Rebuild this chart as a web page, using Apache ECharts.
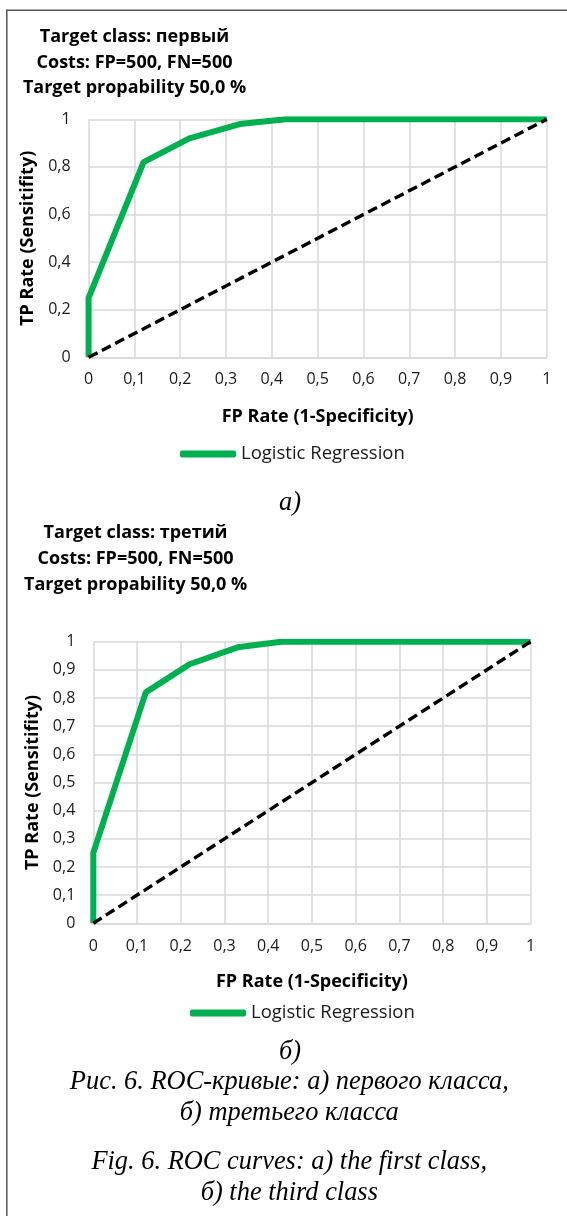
<!DOCTYPE html>
<html>
<head>
<meta charset="utf-8">
<script src="https://cdn.jsdelivr.net/npm/echarts@6/dist/echarts.min.js"></script>
<style>
html,body{margin:0;padding:0;background:#fff;}
#chart{width:567px;height:1216px;}
</style>
</head>
<body>
<div id="chart"></div>
<script>
// ---- data ----
const fprClass1 = [0, 0, 0.12, 0.22, 0.33, 0.43, 1];
const tprClass1 = [0, 0.25, 0.82, 0.92, 0.98, 1, 1];
const fprClass3 = [0, 0, 0.12, 0.22, 0.33, 0.43, 1];
const tprClass3 = [0, 0.25, 0.82, 0.92, 0.98, 1, 1];
const chanceX = [0, 1];
const chanceY = [0, 1];
const seriesName = 'Logistic Regression';
const titleClass1 = ['Target class: первый', 'Costs: FP=500, FN=500', 'Target propability 50,0 %'];
const titleClass3 = ['Target class: третий', 'Costs: FP=500, FN=500', 'Target propability 50,0 %'];
const xAxisTitle = 'FP Rate (1-Specificity)';
const yAxisTitle = 'TP Rate (Sensitifity)';
const panelLabels = ['а)', 'б)'];
const captionRu = ['Рис. 6. ROC-кривые: а) первого класса,', 'б) третьего класса'];
const captionEn = ['Fig. 6. ROC curves: а) the first class,', 'б) the third class'];

// ---- styling ----
const SANS = '"Open Sans", "Noto Sans", sans-serif';
const SERIF = '"Liberation Serif", "DejaVu Serif", serif';
const GREEN = '#00B050';
const GRID = '#D9D9D9';
const TXT = '#1a1a1a';

// font size that makes a sample string as wide as it is in the reference
function fit(text, weight, style, family, width) {
  const ctx = document.createElement('canvas').getContext('2d');
  ctx.font = style + ' ' + weight + ' 100px ' + family;
  return Math.round(100 * width / ctx.measureText(text).width * 10) / 10;
}
const FS_TICK = fit('0,1', 'normal', 'normal', SANS, 22.4);
const FS_BOLD = fit('TP Rate (Sensitifity)', 'bold', 'normal', SANS, 175);
const FS_LEG = fit(seriesName, 'normal', 'normal', SANS, 164);
const FS_SERIF = fit(captionEn[0], 'normal', 'italic', SERIF, 396);

const pts = (xs, ys) => xs.map((x, i) => [x, ys[i]]);
const fmt = v => String(+(+v).toFixed(1)).replace('.', ',');

function xAxis(gridIndex, margin, gap) {
  return {
    type: 'value', gridIndex, min: 0, max: 1, interval: 0.1,
    axisLine: { show: true, lineStyle: { color: GRID, width: 1.5 } },
    axisTick: { show: false },
    splitLine: { show: true, lineStyle: { color: GRID, width: 1.5 } },
    axisLabel: { formatter: fmt, color: TXT, fontFamily: SANS, fontSize: FS_TICK, margin },
    name: xAxisTitle, nameLocation: 'middle', nameGap: gap,
    nameTextStyle: { fontFamily: SANS, fontWeight: 'bold', fontSize: FS_BOLD, color: '#000' }
  };
}
function yAxis(gridIndex, interval, gap) {
  return {
    type: 'value', gridIndex, min: 0, max: 1, interval,
    axisLine: { show: false }, axisTick: { show: false },
    splitLine: { show: true, lineStyle: { color: GRID, width: 1.5 } },
    axisLabel: { formatter: fmt, color: TXT, fontFamily: SANS, fontSize: FS_TICK, margin: 18 },
    name: yAxisTitle, nameLocation: 'middle', nameGap: gap, nameRotate: 90,
    nameTextStyle: { fontFamily: SANS, fontWeight: 'bold', fontSize: FS_BOLD, color: '#000' }
  };
}
function roc(idx, data) {
  return {
    name: seriesName, type: 'line', xAxisIndex: idx, yAxisIndex: idx,
    data, showSymbol: false, symbol: 'none', z: 2,
    lineStyle: { color: GREEN, width: 6 }, itemStyle: { color: GREEN }
  };
}
function chance(idx) {
  return {
    name: 'chance', type: 'line', xAxisIndex: idx, yAxisIndex: idx,
    data: pts(chanceX, chanceY), showSymbol: false, symbol: 'none', z: 3,
    lineStyle: { color: '#000', width: 3.4, type: [10, 5] }
  };
}
function legend(left, top) {
  return {
    data: [seriesName], left, top, padding: 0, orient: 'horizontal',
    icon: 'roundRect', itemWidth: 56, itemHeight: 7, selectedMode: false,
    itemStyle: { color: GREEN },
    textStyle: { fontFamily: SANS, fontSize: FS_LEG, color: TXT }
  };
}
function boldTitle(lines, cx, top, lh) {
  return {
    text: lines.join('\n'), left: cx, top, textAlign: 'center', padding: 0,
    textStyle: { fontFamily: SANS, fontWeight: 'bold', fontSize: FS_BOLD, color: '#000', lineHeight: lh }
  };
}
function serifText(text, cx, top, lh) {
  return {
    text, left: cx, top, textAlign: 'center', padding: 0,
    textStyle: { fontFamily: SERIF, fontStyle: 'italic', fontWeight: 'normal', fontSize: FS_SERIF, color: '#000', lineHeight: lh }
  };
}

const chart = echarts.init(document.getElementById('chart'), null, { renderer: 'canvas' });
chart.setOption({
  animation: false,
  backgroundColor: '#fff',
  title: [
    boldTitle(titleClass1, 134.5, 24.2, 25.5),
    boldTitle(titleClass3, 135.6, 520.3, 26),
    serifText(panelLabels[0], 290, 490.3, 26),
    serifText(panelLabels[1], 290, 1039, 26),
    serifText(captionRu.join('\n'), 289.3, 1066.5, 31),
    serifText(captionEn.join('\n'), 289.3, 1146.5, 31)
  ],
  legend: [legend(180, 444.5), legend(190, 1003.5)],
  grid: [
    { left: 88.6, top: 119.3, width: 458.1, height: 238, containLabel: false },
    { left: 93.3, top: 641.7, width: 437.3, height: 281.6, containLabel: false }
  ],
  xAxis: [xAxis(0, 14, 50.5), xAxis(1, 15, 50)],
  yAxis: [yAxis(0, 0.2, 42.5), yAxis(1, 0.1, 47)],
  series: [
    roc(0, pts(fprClass1, tprClass1)), chance(0),
    roc(1, pts(fprClass3, tprClass3)), chance(1)
  ],
  graphic: [{
    type: 'polyline', silent: true,
    shape: { points: [[6.8, 1216], [6.8, 10.2], [567, 10.2]] },
    style: { stroke: '#555', lineWidth: 1.5, fill: null }
  }]
});
</script>
</body>
</html>
